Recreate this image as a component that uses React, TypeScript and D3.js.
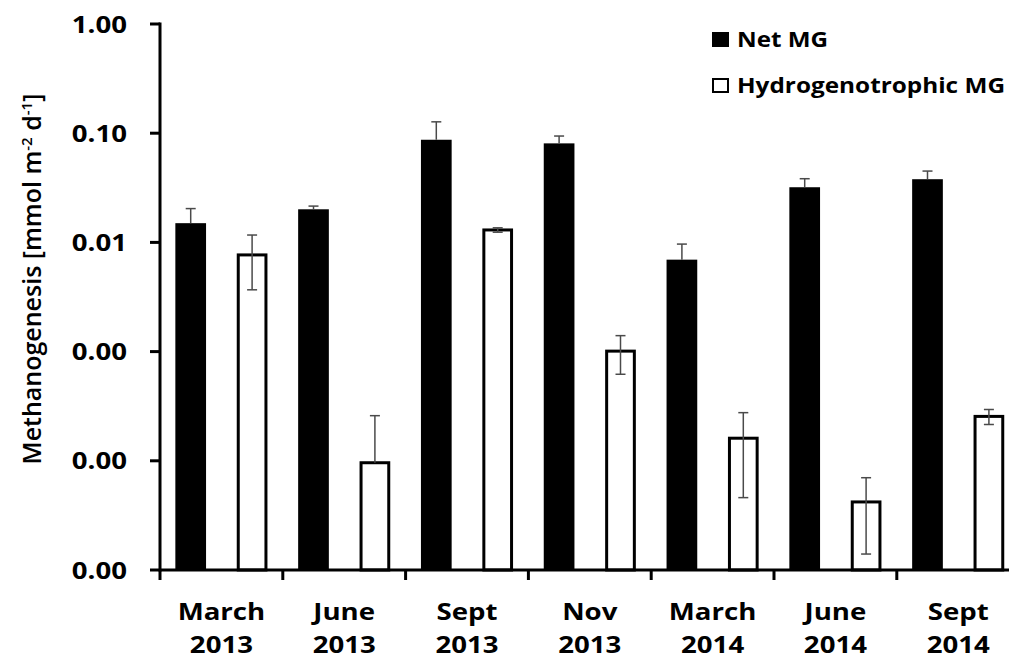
import React from "react";
import * as d3 from "d3";

const months = ["March", "June", "Sept", "Nov", "March", "June", "Sept"];
const years = ["2013", "2013", "2013", "2013", "2014", "2014", "2014"];
const netMG = [0.015, 0.0201, 0.0871, 0.0807, 0.00695, 0.032, 0.0379];
const netErr = [0.0054, 0.0014, 0.04, 0.0135, 0.0027, 0.0063, 0.0071];
const hydroMG = [0.00768, 0.000096, 0.013, 0.00101, 0.000161, 0.000042, 0.000255];
const hydroErr = [0.004, 0.000163, 0.0006, 0.00039, 0.000115, 0.000028, 0.00004];
const yTicks = [0.00001, 0.0001, 0.001, 0.01, 0.1, 1];
const seriesNames = ["Net MG", "Hydrogenotrophic MG"];

const W = 1009;
const H = 659;
const FONT = "'Open Sans', Lato, sans-serif";
const SX = 1.2;

export default function App() {
  const left = 160;
  const bottom = 570;
  const top = 24;
  const step = 122.8;
  const idx = months.map((_, i) => i);
  const x0 = d3.scaleBand<number>().domain(idx).range([left, left + step * months.length]).padding(0);
  const x1 = d3
    .scaleBand<string>()
    .domain(["net", "hydro"])
    .range([0, x0.bandwidth()])
    .paddingInner(0.5)
    .paddingOuter(0.25);
  const y = d3.scaleLog().domain([1e-5, 1]).range([bottom, top]);
  const fmt = d3.format(".2f");
  const bw = x1.bandwidth();
  const cap = 5;
  const errColor = "#4a4a4a";

  const errBar = (cx: number, v: number, e: number, lower: boolean, key: string) => {
    const yt = y(v + e);
    const yv = y(v);
    const lo = v - e;
    const yl = lower && lo > 0 ? y(lo) : null;
    return (
      <g key={key} stroke={errColor} strokeWidth={1.5}>
        <line x1={cx} x2={cx} y1={yt} y2={yl !== null ? yl : yv} />
        <line x1={cx - cap} x2={cx + cap} y1={yt} y2={yt} />
        {yl !== null && <line x1={cx - cap} x2={cx + cap} y1={yl} y2={yl} />}
      </g>
    );
  };

  return (
    <svg width={W} height={H} style={{ position: "absolute", left: 0, top: 0, background: "#fff" }}>
      <rect x={0} y={0} width={W} height={H} fill="#fff" />
      {/* bars */}
      {idx.map((i) => {
        const xn = x0(i)! + x1("net")!;
        const xh = x0(i)! + x1("hydro")!;
        const yn = y(netMG[i]);
        const yh = y(hydroMG[i]);
        return (
          <g key={i}>
            <rect x={xn} y={yn} width={bw} height={bottom - yn} fill="#000" />
            <rect
              x={xh + 1.5}
              y={yh}
              width={bw - 3}
              height={bottom - yh}
              fill="#fff"
              stroke="#000"
              strokeWidth={3}
            />
          </g>
        );
      })}
      {/* error bars */}
      {idx.map((i) => (
        <g key={"e" + i}>
          {errBar(x0(i)! + x1("net")! + bw / 2, netMG[i], netErr[i], false, "n" + i)}
          {errBar(x0(i)! + x1("hydro")! + bw / 2, hydroMG[i], hydroErr[i], true, "h" + i)}
        </g>
      ))}
      {/* axes */}
      <line x1={left} x2={W} y1={bottom} y2={bottom} stroke="#000" strokeWidth={3} />
      <line x1={left} x2={left} y1={top - 1.5} y2={bottom + 1.5} stroke="#000" strokeWidth={3} />
      {yTicks.map((t, i) => (
        <g key={"yt" + i}>
          <line x1={left - 10} x2={left} y1={y(t)} y2={y(t)} stroke="#000" strokeWidth={3} />
          <g transform={`translate(127,${y(t) + 8.5}) scale(${SX},1)`}>
            <text textAnchor="end" fontFamily={FONT} fontWeight={700} fontSize={23} fill="#000">
              {fmt(t)}
            </text>
          </g>
        </g>
      ))}
      {x0.domain().map((i) => (
        <line
          key={"xt" + i}
          x1={x0(i)!}
          x2={x0(i)!}
          y1={bottom}
          y2={bottom + 10}
          stroke="#000"
          strokeWidth={3}
        />
      ))}
      {idx.map((i) => {
        const cx = x0(i)! + x0.bandwidth() / 2;
        return (
          <g key={"xl" + i}>
            <g transform={`translate(${cx},620) scale(${SX},1)`}>
              <text textAnchor="middle" fontFamily={FONT} fontWeight={700} fontSize={23} fill="#000">
                {months[i]}
              </text>
            </g>
            <g transform={`translate(${cx},653) scale(${SX},1)`}>
              <text textAnchor="middle" fontFamily={FONT} fontWeight={700} fontSize={23} fill="#000">
                {years[i]}
              </text>
            </g>
          </g>
        );
      })}
      {/* y title */}
      <g transform={`translate(41,279) rotate(-90)`}>
        <text textAnchor="middle" fontFamily={FONT} fontWeight={600} fontSize={25} fill="#000">
          Methanogenesis [mmol m
          <tspan fontSize={15} dy={-9}>-2</tspan>
          <tspan dy={9}> d</tspan>
          <tspan fontSize={15} dy={-9}>-1</tspan>
          <tspan dy={9}>]</tspan>
        </text>
      </g>
      {/* legend */}
      <rect x={712} y={32} width={17} height={15} fill="#000" />
      <text
        x={737}
        y={47}
        fontFamily={FONT}
        fontWeight={700}
        fontSize={21}
        fill="#000"
        textLength={91}
        lengthAdjust="spacingAndGlyphs"
      >
        {seriesNames[0]}
      </text>
      <rect x={713} y={79} width={15} height={13} fill="#fff" stroke="#000" strokeWidth={2} />
      <text
        x={737}
        y={93}
        fontFamily={FONT}
        fontWeight={700}
        fontSize={21}
        fill="#000"
        textLength={268}
        lengthAdjust="spacingAndGlyphs"
      >
        {seriesNames[1]}
      </text>
    </svg>
  );
}
